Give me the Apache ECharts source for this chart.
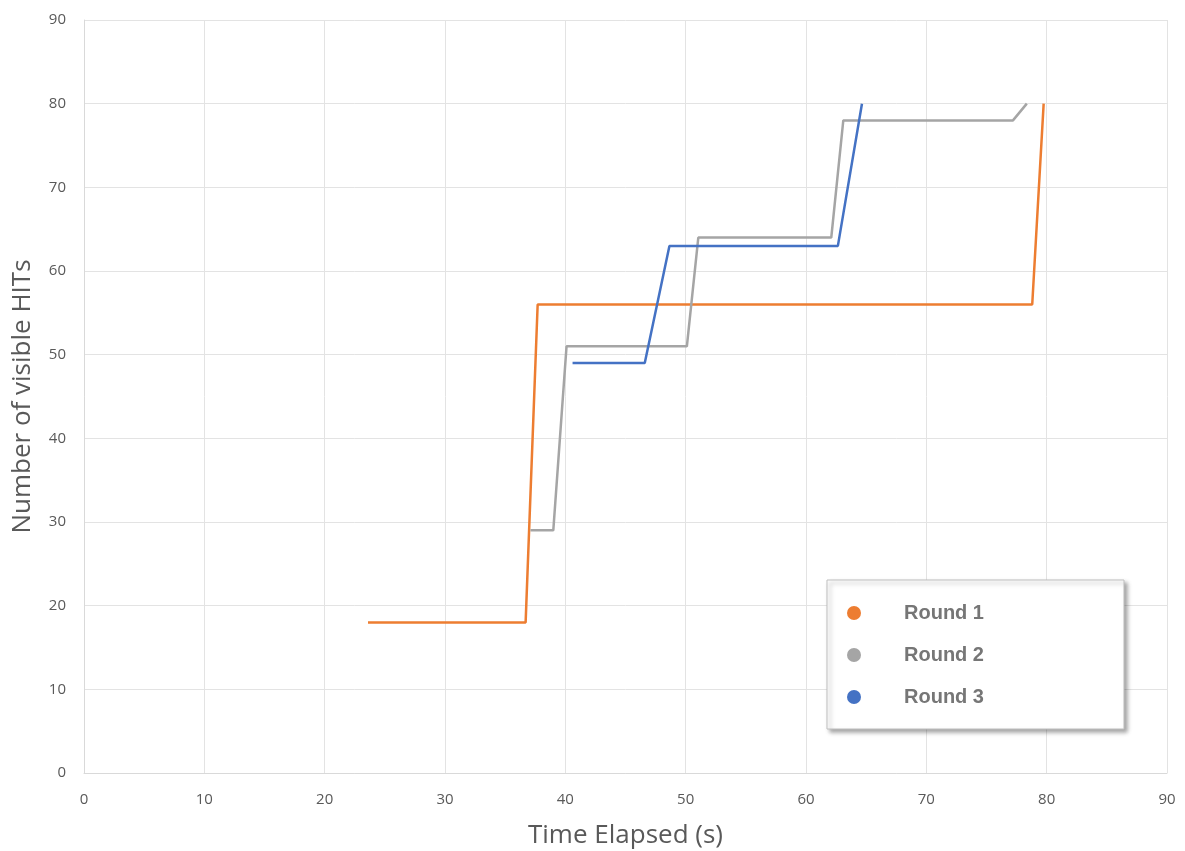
<!DOCTYPE html>
<html>
<head>
<meta charset="utf-8">
<script src="https://cdn.jsdelivr.net/npm/echarts@6/dist/echarts.min.js"></script>
<style>html,body{margin:0;padding:0;background:#fff}#c{width:1185px;height:851px}</style>
</head>
<body>
<div id="c"></div>
<script>
const seriesNames = ['Round 1', 'Round 2', 'Round 3'];
const round1 = [[23.6, 18], [36.7, 18], [37.7, 56], [78.8, 56], [79.75, 80]];
const round2 = [[37.1, 29], [39.0, 29], [40.1, 51], [50.1, 51], [51.05, 64], [62.1, 64], [63.1, 78], [77.2, 78], [78.35, 80]];
const round3 = [[40.6, 49], [46.6, 49], [48.65, 63], [62.65, 63], [64.65, 80]];
const colors = ['#ED7D31', '#A5A5A5', '#4472C4'];
const xTitle = 'Time Elapsed (s)';
const yTitle = 'Number of visible HITs';

const chart = echarts.init(document.getElementById('c'));
const datas = [round1, round2, round3];
chart.setOption({
  animation: false,
  backgroundColor: '#fff',
  grid: { left: 84, right: 18, top: 20, bottom: 78, outerBoundsMode: 'none', containLabel: false },
  xAxis: {
    type: 'value', min: 0, max: 90, interval: 10,
    name: xTitle, nameLocation: 'middle', nameGap: 50,
    nameTextStyle: { fontFamily: 'Open Sans', fontSize: 26, color: '#595959' },
    axisLine: { show: true, lineStyle: { color: '#d9d9d9', width: 1 } },
    axisTick: { show: false },
    axisLabel: { margin: 19, fontFamily: 'Open Sans', fontSize: 15, color: '#595959' },
    splitLine: { show: true, lineStyle: { color: '#e3e3e3', width: 1 } }
  },
  yAxis: {
    type: 'value', min: 0, max: 90, interval: 10,
    name: yTitle, nameLocation: 'middle', nameGap: 48,
    nameTextStyle: { fontFamily: 'Open Sans', fontSize: 26, color: '#595959' },
    axisLine: { show: true, lineStyle: { color: '#d9d9d9', width: 1 } },
    axisTick: { show: false },
    axisLabel: { margin: 18, fontFamily: 'Open Sans', fontSize: 15, color: '#595959' },
    splitLine: { show: true, lineStyle: { color: '#e3e3e3', width: 1 } }
  },
  legend: {
    orient: 'vertical',
    left: 827, top: 580,
    padding: [23, 140, 22, 20],
    itemGap: 22,
    itemWidth: 14, itemHeight: 14,
    icon: 'circle',
    backgroundColor: '#fff',
    borderColor: '#bfbfbf', borderWidth: 1,
    shadowColor: 'rgba(0,0,0,0.35)', shadowBlur: 4, shadowOffsetX: 3, shadowOffsetY: 3,
    textStyle: { fontFamily: 'Liberation Sans', fontWeight: 'bold', fontSize: 20, color: '#767676', padding: [0, 0, 0, 38] },
    data: seriesNames
  },
  series: seriesNames.map((n, i) => ({
    name: n, type: 'line', data: datas[i],
    showSymbol: false, symbol: 'none',
    lineStyle: { color: colors[i], width: 2.5 },
    itemStyle: { color: colors[i] }
  }))
});
</script>
</body>
</html>
